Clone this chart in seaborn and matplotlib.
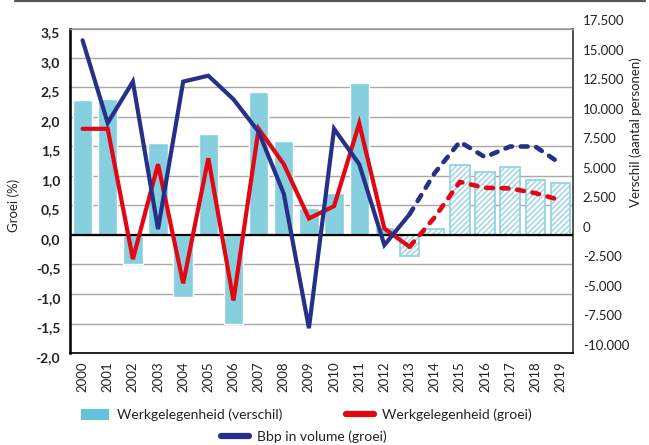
import matplotlib
matplotlib.use("Agg")
import matplotlib.pyplot as plt
import matplotlib.transforms as mtrans
from matplotlib.lines import Line2D
from matplotlib.patches import Patch
from matplotlib.ticker import FixedLocator, FuncFormatter
import seaborn as sns

years = list(range(2000, 2020))
bbp_groei = [3.3, 1.9, 2.6, 0.1, 2.6, 2.7, 2.3, 1.75, 0.7, -1.58, 1.8, 1.2,
             -0.17, 0.35, 1.05, 1.58, 1.32, 1.5, 1.5, 1.21]
werk_groei = [1.8, 1.8, -0.41, 1.2, -0.82, 1.3, -1.11, 1.8, 1.2, 0.28, 0.49, 1.89,
              0.11, -0.2, 0.3, 0.9, 0.8, 0.79, 0.71, 0.59]
werk_verschil = [11450, 11550, -2450, 7800, -5250, 8550, -7500, 12150, 7950, 2300,
                 3550, 12900, 700, -1800, 500, 5950, 5300, 5800, 4650, 4400]
first_forecast = 2013
left_ticks = [-2.0, -1.5, -1.0, -0.5, 0.0, 0.5, 1.0, 1.5, 2.0, 2.5, 3.0, 3.5]
right_ticks = [-10000, -7500, -5000, -2500, 0, 2500, 5000, 7500, 10000, 12500, 15000, 17500]

sns.set_style("white")
plt.rcParams["font.family"] = ["Lato", "DejaVu Sans"]

BAR = "#86cfdf"
BAR_EDGE = "#94d3e3"
RED = "#e30613"
BLUE = "#263089"

fig = plt.figure(figsize=(6.49, 4.45), dpi=100)
ax = fig.add_axes([70/649, 1-353/445, 503/649, 324.5/445])
ax2 = ax.twinx()
ax.set_zorder(ax2.get_zorder() + 1)
ax.patch.set_visible(False)

# bars on right axis
sns.barplot(x=years, y=werk_verschil, ax=ax2, native_scale=True, color=BAR,
            saturation=1, width=0.77, zorder=2)
for yr, p in zip(years, ax2.patches):
    if yr >= first_forecast:
        p.set_facecolor("white")
        p.set_edgecolor(BAR_EDGE)
        p.set_hatch("//////")
        p.set_linewidth(1.3)
ax2.set_ylim(-10000, 17500)
ax2.yaxis.set_major_locator(FixedLocator(right_ticks))
ax2.yaxis.set_major_formatter(FuncFormatter(lambda v, p: f"{int(v):,}".replace(",", ".")))
ax2.grid(axis="y", color="#a8a8a8", lw=1.0, zorder=0)
ax2.grid(axis="x", visible=False)
ax2.set_axisbelow(True)
for s in ax2.spines.values():
    s.set_visible(False)
ax2.tick_params(axis="y", length=0, labelsize=9.5, labelcolor="#222222", pad=7)
ax2.set_ylabel("Verschil (aantal personen)", fontsize=9.5, color="#222222", rotation=90)
ax2.yaxis.set_label_coords(1.112, 0.681)

# lines on left axis
solid = [i for i, y in enumerate(years) if y <= first_forecast]
dash = [i for i, y in enumerate(years) if y >= first_forecast]
for vals, col in [(werk_groei, RED), (bbp_groei, BLUE)]:
    sns.lineplot(x=[years[i] for i in solid], y=[vals[i] for i in solid], ax=ax,
                 color=col, lw=3.0, zorder=5)
    ax.lines[-1].set_solid_joinstyle("miter")
    sns.lineplot(x=[years[i] for i in dash], y=[vals[i] for i in dash], ax=ax,
                 color=col, lw=3.3, zorder=5, linestyle=(0, (1.5, 1.9)))
    ax.lines[-1].set_dash_capstyle("round")

ax.axhline(0, color="black", lw=1.6, zorder=3)
ax.set_ylim(-2.0, 3.5)
ax.set_xlim(years[0] - 0.5, years[-1] + 0.5)
ax.yaxis.set_major_locator(FixedLocator(left_ticks))
ax.yaxis.set_major_formatter(FuncFormatter(lambda v, p: f"{v:.1f}".replace(".", ",")))
ax.set_xticks(years)
ax.set_xticklabels([str(y) for y in years], rotation=90, fontsize=9.5, color="#222222")
ax.set_xticks([y - 0.5 for y in years] + [years[-1] + 0.5], minor=True)
ax.tick_params(axis="x", which="major", length=0, pad=6)
ax.tick_params(axis="x", which="minor", length=5, width=1.2, color="black", direction="out")
ax.tick_params(axis="y", length=0, labelsize=10, pad=7)
for lbl in ax.get_yticklabels():
    lbl.set_fontweight("bold")
    lbl.set_color("#222222")
ax.set_ylabel("Groei (%)", fontsize=9.5, color="#222222")
ax.yaxis.set_label_coords(-0.099, 0.456)
ax.set_xlabel("")
ax2.set_xlabel("")

ax.spines["left"].set_color("black")
ax.spines["left"].set_linewidth(1.8)
ax.spines["bottom"].set_color("black")
ax.spines["bottom"].set_linewidth(1.2)
ax.spines["top"].set_color("#999999")
ax.spines["top"].set_linewidth(0.9)
ax.spines["right"].set_color("#333333")
ax.spines["right"].set_linewidth(1.2)

# small label offsets as in the reference
for lbl in ax.get_yticklabels():
    lbl.set_transform(lbl.get_transform() + mtrans.ScaledTranslation(0, -4/100, fig.dpi_scale_trans))
for lbl in ax2.get_yticklabels():
    lbl.set_transform(lbl.get_transform() + mtrans.ScaledTranslation(0, 8/100, fig.dpi_scale_trans))

# legend
h_bar = Patch(facecolor="#62c3da", edgecolor="none")
h_red = Line2D([], [], color=RED, lw=4.5, solid_capstyle="round")
h_blue = Line2D([], [], color=BLUE, lw=4.5, solid_capstyle="round")
leg1 = fig.legend([h_bar, h_red], ["Werkgelegenheid (verschil)", "Werkgelegenheid (groei)"],
                  loc="center left", bbox_to_anchor=(81/649, 1-415/445), ncol=2,
                  frameon=False, fontsize=10, handlelength=2.0, handleheight=0.8,
                  handletextpad=0.6, columnspacing=4.6, borderaxespad=0, borderpad=0)
leg2 = fig.legend([h_blue], ["Bbp in volume (groei)"],
                  loc="center left", bbox_to_anchor=(221/649, 1-437/445), ncol=1,
                  frameon=False, fontsize=10, handlelength=2.0,
                  handletextpad=0.6, borderaxespad=0, borderpad=0)
for leg in (leg1, leg2):
    for t in leg.get_texts():
        t.set_color("#222222")

fig.add_artist(Line2D([15/649, 645/649], [1-1/445, 1-1/445], color="#555555", lw=1.6,
                      transform=fig.transFigure))

fig.savefig("out.png", dpi=100, facecolor="white")
